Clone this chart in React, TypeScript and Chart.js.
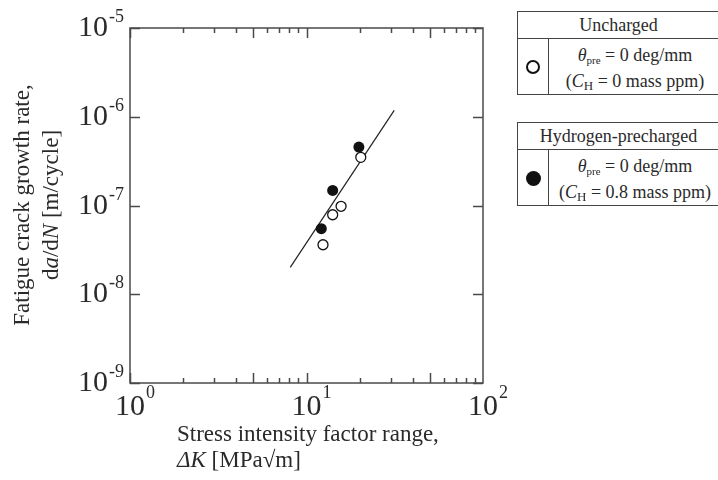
import React, { useEffect, useRef } from "react";
import { Chart, registerables } from "chart.js";

Chart.register(...registerables);

// ---- data ----
const unchargedDK = [12.4, 14.07, 15.7, 20.3];
const unchargedRate = [3.61e-8, 7.87e-8, 9.8e-8, 3.49e-7];
const prechargedDK = [12.13, 14.07, 19.8];
const prechargedRate = [5.48e-8, 1.48e-7, 4.56e-7];
const fitDK = [8.09, 31.4];
const fitRate = [2.01e-8, 1.18e-6];

const xDecades = [1, 10, 100];
const xExponents = ["0", "1", "2"];
const yDecades = [1e-9, 1e-8, 1e-7, 1e-6, 1e-5];
const yExponents = ["-9", "-8", "-7", "-6", "-5"];

const FONT = '"Liberation Serif", "Times New Roman", serif';
const TEXT = "#2a2a2a";

type Run = { t: string; f: string };

function drawRuns(ctx: CanvasRenderingContext2D, runs: Run[], x: number, y: number, align: "left" | "center") {
  let total = 0;
  const widths = runs.map((r) => {
    ctx.font = r.f;
    const w = ctx.measureText(r.t).width;
    total += w;
    return w;
  });
  let cx = align === "center" ? x - total / 2 : x;
  ctx.textAlign = "left";
  ctx.textBaseline = "alphabetic";
  runs.forEach((r, i) => {
    ctx.font = r.f;
    ctx.fillText(r.t, cx, y);
    cx += widths[i];
  });
}

const framePlugin = {
  id: "frame",
  afterDraw(chart: any) {
    const { ctx, chartArea, scales } = chart;
    const { left, right, top, bottom } = chartArea;
    const xs = scales.x;
    const ys = scales.y;
    ctx.save();
    ctx.strokeStyle = "#4a4a4a";
    ctx.lineWidth = 1.5;
    ctx.strokeRect(left, top, right - left, bottom - top);

    // x ticks (inward, top and bottom)
    ctx.beginPath();
    for (let d = 0; d < xDecades.length - 1; d++) {
      for (let m = 1; m <= 9; m++) {
        const v = xDecades[d] * m;
        const px = Math.round(xs.getPixelForValue(v)) + 0.5;
        const len = m === 1 || m === 5 ? 10 : 5;
        ctx.moveTo(px, bottom);
        ctx.lineTo(px, bottom - len);
        ctx.moveTo(px, top);
        ctx.lineTo(px, top + len);
      }
    }
    // y ticks (inward, left and right)
    yDecades.forEach((v) => {
      const py = Math.round(ys.getPixelForValue(v)) + 0.5;
      ctx.moveTo(left, py);
      ctx.lineTo(left + 10, py);
      ctx.moveTo(right, py);
      ctx.lineTo(right - 10, py);
    });
    ctx.stroke();

    ctx.fillStyle = TEXT;
    const baseFont = `30px ${FONT}`;
    const supFont = `18px ${FONT}`;
    // x tick labels
    xDecades.forEach((v, i) => {
      const px = xs.getPixelForValue(v);
      ctx.font = baseFont;
      const w = ctx.measureText("10").width;
      ctx.textAlign = "left";
      ctx.textBaseline = "alphabetic";
      ctx.fillText("10", px - w / 2, bottom + 32);
      ctx.font = supFont;
      ctx.fillText(xExponents[i], px + w / 2 + 1, bottom + 15);
    });
    // y tick labels
    yDecades.forEach((v, i) => {
      const py = ys.getPixelForValue(v);
      ctx.font = supFont;
      const sw = ctx.measureText(yExponents[i]).width;
      ctx.font = baseFont;
      const w = ctx.measureText("10").width;
      const endX = 124;
      ctx.textAlign = "left";
      ctx.textBaseline = "alphabetic";
      ctx.fillText("10", endX - sw - 1 - w, py + 8);
      ctx.font = supFont;
      ctx.fillText(yExponents[i], endX - sw, py - 6);
    });

    // x title
    const tf = `23px ${FONT}`;
    const tfi = `italic 23px ${FONT}`;
    drawRuns(ctx, [{ t: "Stress intensity factor range,", f: tf }], 177, 441, "left");
    drawRuns(ctx, [{ t: "ΔK", f: tfi }, { t: " [MPa√m]", f: tf }], 177, 467, "left");

    // y title
    ctx.save();
    ctx.translate(0, 205);
    ctx.rotate(-Math.PI / 2);
    drawRuns(ctx, [{ t: "Fatigue crack growth rate,", f: tf }], 0, 29, "center");
    drawRuns(
      ctx,
      [
        { t: "d", f: tf },
        { t: "a", f: tfi },
        { t: "/d", f: tf },
        { t: "N", f: tfi },
        { t: " [m/cycle]", f: tf },
      ],
      0,
      58,
      "center"
    );
    ctx.restore();
    ctx.restore();
  },
};

function LegendBox(props: { top: number; title: string; filled: boolean; conc: string }) {
  const { top, title, filled, conc } = props;
  const border = "1.5px solid #454545";
  return (
    <div
      style={{
        position: "absolute",
        left: 517,
        top,
        width: 215,
        height: 84,
        border,
        boxSizing: "border-box",
        fontFamily: FONT,
        fontSize: 18,
        color: TEXT,
        background: "#fff",
      }}
    >
      <div
        style={{
          height: 27,
          borderBottom: border,
          textAlign: "center",
          lineHeight: "27px",
          paddingRight: 12,
          boxSizing: "border-box",
        }}
      >
        {title}
      </div>
      <div style={{ display: "flex", height: 55 }}>
        <div
          style={{
            width: 30,
            borderRight: border,
            display: "flex",
            alignItems: "center",
            justifyContent: "center",
          }}
        >
          <div
            style={{
              width: filled ? 15 : 14,
              height: filled ? 15 : 14,
              borderRadius: "50%",
              border: filled ? "none" : "2px solid #111",
              background: filled ? "#111" : "#fff",
              boxSizing: "border-box",
              marginTop: 1,
            }}
          />
        </div>
        <div
          style={{
            flex: 1,
            textAlign: "center",
            paddingTop: 4,
            lineHeight: "24px",
            paddingRight: 10,
            whiteSpace: "nowrap",
          }}
        >
          <div>
            <i>θ</i>
            <span style={{ fontSize: 11, position: "relative", top: 3 }}>pre</span> = 0 deg/mm
          </div>
          <div>
            (<i>C</i>
            <span style={{ fontSize: 13, position: "relative", top: 3 }}>H</span> = {conc} mass ppm)
          </div>
        </div>
      </div>
    </div>
  );
}

export default function App() {
  const ref = useRef<HTMLCanvasElement>(null);
  useEffect(() => {
    if (!ref.current) return;
    const chart = new Chart(ref.current, {
      type: "scatter",
      data: {
        datasets: [
          {
            label: "Uncharged",
            data: unchargedDK.map((x, i) => ({ x, y: unchargedRate[i] })),
            pointRadius: 5,
            pointBackgroundColor: "#fff",
            pointBorderColor: "#111",
            pointBorderWidth: 1.3,
            order: 1,
          },
          {
            label: "Hydrogen-precharged",
            data: prechargedDK.map((x, i) => ({ x, y: prechargedRate[i] })),
            pointRadius: 5.5,
            pointBackgroundColor: "#111",
            pointBorderColor: "#111",
            pointBorderWidth: 0,
            order: 0,
          },
          {
            label: "Fit",
            data: fitDK.map((x, i) => ({ x, y: fitRate[i] })),
            showLine: true,
            pointRadius: 0,
            borderColor: "#222",
            borderWidth: 1.2,
            order: 2,
          },
        ],
      },
      options: {
        responsive: false,
        animation: false,
        devicePixelRatio: 1,
        layout: { padding: { left: 130, top: 28, right: 235, bottom: 97 } },
        plugins: { legend: { display: false }, tooltip: { enabled: false } },
        scales: {
          x: { type: "logarithmic", min: 1, max: 100, display: false },
          y: { type: "logarithmic", min: 1e-9, max: 1e-5, display: false },
        },
      },
      plugins: [framePlugin],
    });
    return () => chart.destroy();
  }, []);
  return (
    <div
      style={{
        position: "absolute",
        left: 0,
        top: 0,
        width: 718,
        height: 480,
        overflow: "hidden",
        background: "#fff",
      }}
    >
      <canvas ref={ref} width={718} height={480} style={{ display: "block" }} />
      <LegendBox top={11} title="Uncharged" filled={false} conc="0" />
      <LegendBox top={122} title="Hydrogen-precharged" filled={true} conc="0.8" />
    </div>
  );
}
